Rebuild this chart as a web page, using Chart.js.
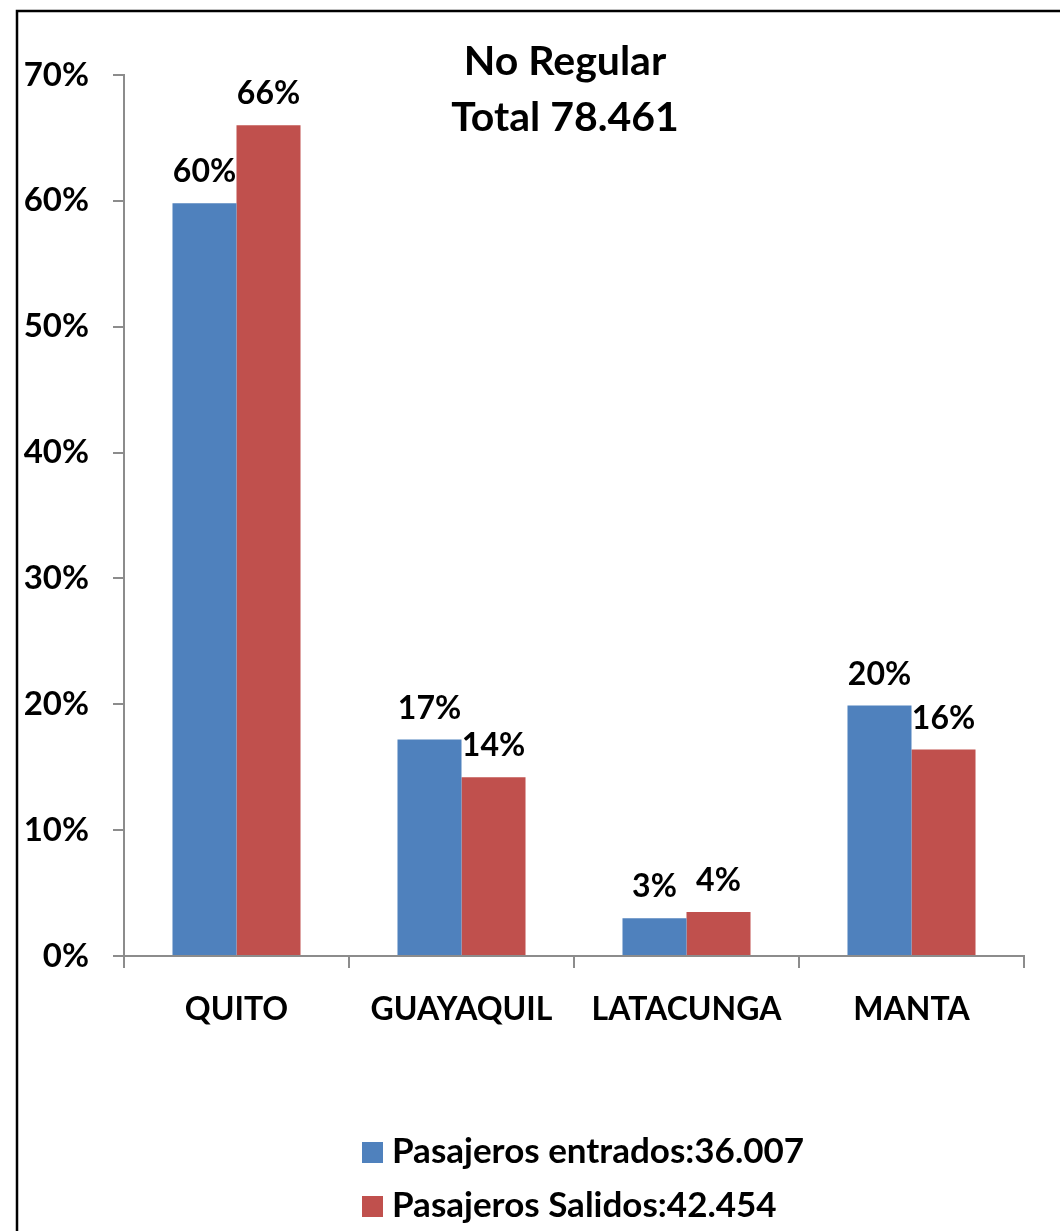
<!DOCTYPE html>
<html>
<head>
<meta charset="utf-8">
<script src="https://cdn.jsdelivr.net/npm/chart.js@4"></script>
<style>
	html, body { margin: 0; padding: 0; background: #fff; overflow: hidden; }
	#holder { position: relative; width: 1060px; height: 1231px; }
</style>
</head>
<body>
<div id="holder"><canvas id="chart"></canvas></div>
<script>
(function () {
	'use strict';

	var categories = ['QUITO', 'GUAYAQUIL', 'LATACUNGA', 'MANTA'];
	var entrados = [59.8, 17.2, 3.0, 19.9];
	var salidos = [66.0, 14.2, 3.5, 16.4];
	var seriesNames = ['Pasajeros entrados:36.007', 'Pasajeros Salidos:42.454'];
	var titleLines = ['No Regular', 'Total 78.461'];
	var yTicks = [0, 10, 20, 30, 40, 50, 60, 70];

	var blue = '#4F81BD',
		red = '#C0504D',
		axisColor = '#8c8c8c',
		fontFamily = 'Lato, "Open Sans", sans-serif';

	Chart.defaults.font.family = fontFamily;
	Chart.defaults.color = '#000';

	/**
	 * Frame, title, value labels and the two-row legend
	 */
	var extrasPlugin = {
		id: 'extras',
		beforeDraw: function (chart) {
			var ctx = chart.ctx;
			ctx.save();
			ctx.fillStyle = '#fff';
			ctx.fillRect(0, 0, chart.width, chart.height);
			ctx.strokeStyle = '#000';
			ctx.lineWidth = 2.5;
			ctx.strokeRect(17, 11, chart.width + 40, chart.height + 40);
			ctx.restore();
		},
		afterDatasetsDraw: function (chart) {
			var ctx = chart.ctx;
			ctx.save();
			ctx.font = 'bold 32px ' + fontFamily;
			ctx.fillStyle = '#000';
			ctx.textAlign = 'center';
			ctx.textBaseline = 'alphabetic';
			chart.data.datasets.forEach(function (ds, i) {
				chart.getDatasetMeta(i).data.forEach(function (bar, j) {
					ctx.fillText(Math.round(ds.data[j]) + '%', bar.x, bar.y - 21);
				});
			});
			ctx.restore();
		},
		afterDraw: function (chart) {
			var ctx = chart.ctx;
			ctx.save();
			ctx.fillStyle = '#000';
			ctx.textAlign = 'center';
			ctx.textBaseline = 'alphabetic';
			ctx.font = 'bold 41px ' + fontFamily;
			ctx.fillText(titleLines[0], 565, 75);
			ctx.fillText(titleLines[1], 565, 131);

			ctx.textAlign = 'left';
			ctx.font = 'bold 35px ' + fontFamily;
			chart.data.datasets.forEach(function (ds, i) {
				var top = 1142 + i * 54;
				ctx.fillStyle = ds.backgroundColor;
				ctx.fillRect(362, top, 21, 21);
				ctx.fillStyle = '#000';
				ctx.fillText(ds.label, 392, top + 21);
			});
			ctx.restore();
		}
	};

	new Chart(document.getElementById('chart'), {
		type: 'bar',
		data: {
			labels: categories,
			datasets: [{
				label: seriesNames[0],
				data: entrados,
				backgroundColor: blue,
				categoryPercentage: 0.569,
				barPercentage: 1.0
			}, {
				label: seriesNames[1],
				data: salidos,
				backgroundColor: red,
				categoryPercentage: 0.569,
				barPercentage: 1.0
			}]
		},
		options: {
			responsive: true,
			maintainAspectRatio: false,
			animation: false,
			layout: {
				padding: { top: 75, right: 36, bottom: 175, left: 0 }
			},
			plugins: {
				legend: { display: false },
				title: { display: false },
				tooltip: { enabled: false }
			},
			scales: {
				x: {
					grid: {
						display: true,
						drawOnChartArea: false,
						drawTicks: true,
						tickLength: 12,
						color: axisColor,
						lineWidth: 2
					},
					border: { color: axisColor, width: 2 },
					ticks: {
						padding: 22,
						font: { size: 32, weight: 'bold' },
						color: '#000'
					},
					afterFit: function (scale) {
						scale.height = 100;
					}
				},
				y: {
					min: 0,
					max: 70,
					afterBuildTicks: function (scale) {
						scale.ticks = yTicks.map(function (v) { return { value: v }; });
					},
					grid: {
						display: true,
						drawOnChartArea: false,
						drawTicks: true,
						tickLength: 11,
						color: axisColor,
						lineWidth: 2
					},
					border: { color: axisColor, width: 2 },
					ticks: {
						padding: 24,
						font: { size: 33, weight: 'bold' },
						color: '#000',
						callback: function (v) { return v + '%'; }
					},
					afterFit: function (scale) {
						scale.width = 124;
					}
				}
			}
		},
		plugins: [extrasPlugin]
	});
})();
</script>
</body>
</html>
